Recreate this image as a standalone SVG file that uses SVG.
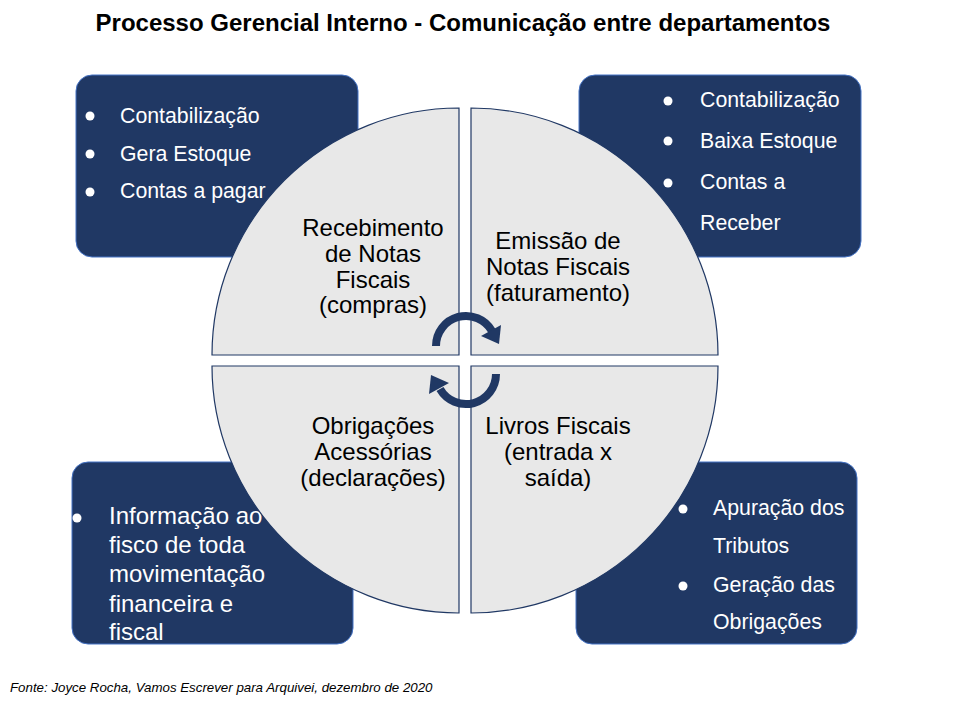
<svg xmlns="http://www.w3.org/2000/svg" width="960" height="720" viewBox="0 0 960 720">
<style>
.box{fill:#203864;stroke:#4472C4;stroke-width:1}
.bt{font-family:"Liberation Sans",Arial,sans-serif;font-size:21.3px;fill:#FFFFFF}
.bt24{font-family:"Liberation Sans",Arial,sans-serif;font-size:24px;fill:#FFFFFF}
.dot{fill:#FFFFFF}
.q{fill:#E8E8E8;stroke:#203864;stroke-width:1.2}
.qt{font-family:"Liberation Sans",Arial,sans-serif;font-size:24px;fill:#000000;text-anchor:middle}
.arc{fill:none;stroke:#203864;stroke-width:8}
.ah{fill:#203864}
</style>
<rect width="960" height="720" fill="#FFFFFF"/>
<text x="463" y="31" text-anchor="middle" font-family="'Liberation Sans',Arial,sans-serif" font-size="24" font-weight="bold" fill="#000000">Processo Gerencial Interno - Comunicação entre departamentos</text>

<g id="box-tl">
<rect class="box" x="76" y="75" width="282" height="182" rx="16"/>
<circle class="dot" cx="90" cy="116" r="4.5"/>
<circle class="dot" cx="90" cy="154" r="4.5"/>
<circle class="dot" cx="90" cy="192" r="4.5"/>
<text class="bt" x="120" y="123">Contabilização</text>
<text class="bt" x="120" y="161">Gera Estoque</text>
<text class="bt" x="120" y="198">Contas a pagar</text>
</g>
<g id="box-tr">
<rect class="box" x="579" y="75" width="282" height="182" rx="16"/>
<circle class="dot" cx="668" cy="101" r="4.5"/>
<circle class="dot" cx="668" cy="141" r="4.5"/>
<circle class="dot" cx="668" cy="183" r="4.5"/>
<text class="bt" x="700" y="107">Contabilização</text>
<text class="bt" x="700" y="148">Baixa Estoque</text>
<text class="bt" x="700" y="189">Contas a</text>
<text class="bt" x="700" y="230">Receber</text>
</g>
<g id="box-bl">
<rect class="box" x="72" y="462" width="281" height="182" rx="16"/>
<circle class="dot" cx="77" cy="518" r="4.5"/>
<text class="bt24" x="109" y="524">Informação ao</text>
<text class="bt24" x="109" y="553">fisco de toda</text>
<text class="bt24" x="109" y="582">movimentação</text>
<text class="bt24" x="109" y="612">financeira e</text>
<text class="bt24" x="109" y="640">fiscal</text>
</g>
<g id="box-br">
<rect class="box" x="576" y="462" width="281" height="182" rx="16"/>
<circle class="dot" cx="683" cy="509" r="4.5"/>
<circle class="dot" cx="683" cy="586" r="4.5"/>
<text class="bt" x="713" y="515">Apuração dos</text>
<text class="bt" x="713" y="553">Tributos</text>
<text class="bt" x="713" y="592">Geração das</text>
<text class="bt" x="713" y="629">Obrigações</text>
</g>

<g id="q-tl">
<path class="q" d="M459,355 L212,355 A247,247 0 0 1 459,108 Z"/>
<text class="qt" x="373" y="236">Recebimento</text>
<text class="qt" x="373" y="262">de Notas</text>
<text class="qt" x="373" y="288">Fiscais</text>
<text class="qt" x="373" y="313">(compras)</text>
</g>
<g id="q-tr">
<path class="q" d="M471,355 L471,108 A247,247 0 0 1 718,355 Z"/>
<text class="qt" x="558" y="249">Emissão de</text>
<text class="qt" x="558" y="275">Notas Fiscais</text>
<text class="qt" x="558" y="301">(faturamento)</text>
</g>
<g id="q-bl">
<path class="q" d="M459,366 L459,613 A247,247 0 0 1 212,366 Z"/>
<text class="qt" x="373" y="434">Obrigações</text>
<text class="qt" x="373" y="460">Acessórias</text>
<text class="qt" x="373" y="486">(declarações)</text>
</g>
<g id="q-br">
<path class="q" d="M471,366 L718,366 A247,247 0 0 1 471,613 Z"/>
<text class="qt" x="558" y="434">Livros Fiscais</text>
<text class="qt" x="558" y="460">(entrada x</text>
<text class="qt" x="558" y="486">saída)</text>
</g>

<g id="connectors">
<path class="arc" d="M436,346 A30,30 0 0 1 492,331"/>
<polygon class="ah" points="499,344 501,325 481,336"/>
<path class="arc" d="M496,374 A30,30 0 0 1 440,389"/>
<polygon class="ah" points="431,375 429,394 449,383"/>
</g>

<text x="10" y="692" font-family="'Liberation Sans',Arial,sans-serif" font-size="13.3" font-style="italic" fill="#000000">Fonte: Joyce Rocha, Vamos Escrever para Arquivei, dezembro de 2020</text>
</svg>
